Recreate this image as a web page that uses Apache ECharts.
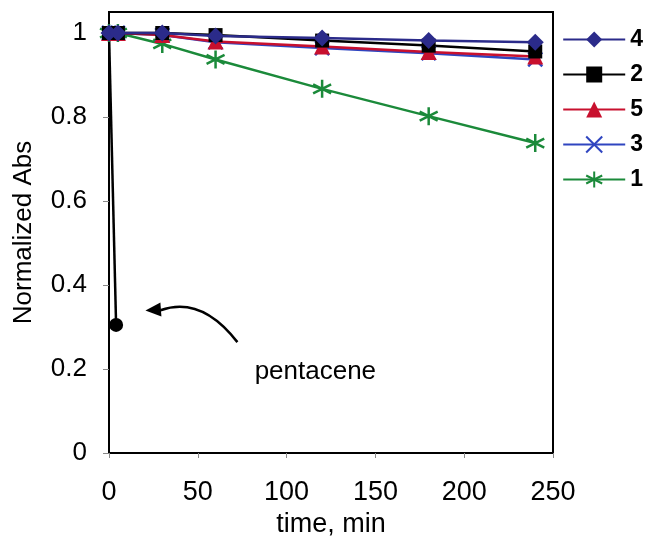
<!DOCTYPE html>
<html>
<head>
<meta charset="utf-8">
<script src="https://cdn.jsdelivr.net/npm/echarts@6/dist/echarts.min.js"></script>
<style>
  html, body { margin: 0; padding: 0; background: #fff; }
  #chart { width: 648px; height: 537px; }
</style>
</head>
<body>
<div id="chart"></div>
<script>
// time points (min)
var times = [0, 5, 30, 60, 120, 180, 240];
// normalized absorbance of each compound
var s4 = [1, 1, 1, 0.993, 0.988, 0.982, 0.978];
var s2 = [1, 1, 1, 0.995, 0.982, 0.97, 0.956];
var s5 = [1, 1, 0.995, 0.98, 0.968, 0.955, 0.944];
var s3 = [1, 1, 0.995, 0.978, 0.964, 0.952, 0.937];
var s1 = [1, 1, 0.974, 0.937, 0.867, 0.802, 0.738];
// pentacene decays almost at once
var pentTimes = [0, 4];
var pentVals = [1, 0.305];
var yTicks = [0, 0.2, 0.4, 0.6, 0.8, 1];

var FONT = '"Liberation Sans", Arial, sans-serif';

function pairs(xs, ys) {
    var out = [];
    for (var i = 0; i < xs.length; i++) out.push([xs[i], ys[i]]);
    return out;
}

var chart = echarts.init(document.getElementById('chart'));

var starPath = 'path://M5,0L5,10M0.7,2.5L9.3,7.5M0.7,7.5L9.3,2.5';
var crossPath = 'path://M0,0L10,10M10,0L0,10';

function line(name, color, vals, symbol, size, hollow) {
    return {
        name: name,
        type: 'line',
        data: pairs(times, vals),
        symbol: symbol,
        symbolSize: size,
        showSymbol: true,
        lineStyle: { color: color, width: 2.5 },
        itemStyle: hollow
            ? { color: 'rgba(0,0,0,0)', borderColor: color, borderWidth: 2.5 }
            : { color: color, borderWidth: 0 },
        emphasis: { disabled: true },
        animation: false
    };
}

var option = {
    backgroundColor: '#fff',
    animation: false,
    grid: {
        left: 109, right: 95, top: 12, bottom: 84,
        outerBoundsMode: 'none',
        show: true, borderColor: '#000', borderWidth: 2
    },
    legend: {
        data: ['4', '2', '5', '3', '1'],
        orient: 'vertical',
        right: 0,
        top: 23,
        itemWidth: 62,
        itemHeight: 20,
        itemGap: 12,
        textStyle: { fontFamily: FONT, fontWeight: 'bold', fontSize: 23, color: '#000' },
        selectedMode: false
    },
    xAxis: {
        type: 'value',
        min: 0, max: 250, interval: 50,
        name: 'time, min',
        nameLocation: 'middle',
        nameGap: 56,
        nameTextStyle: { fontFamily: FONT, fontSize: 27, color: '#000' },
        axisLine: { show: true, onZero: false, lineStyle: { color: '#000', width: 2 } },
        axisTick: { show: true, length: 5, lineStyle: { color: '#888', width: 1 } },
        axisLabel: { fontFamily: FONT, fontSize: 27, color: '#000', margin: 26 },
        splitLine: { show: false }
    },
    yAxis: {
        type: 'value',
        min: 0, max: 1.05,
        name: 'Normalized Abs',
        nameLocation: 'middle',
        nameGap: 72,
        nameTextStyle: { fontFamily: FONT, fontSize: 26, color: '#000' },
        axisLine: { show: true, onZero: false, lineStyle: { color: '#000', width: 2 } },
        axisTick: { show: true, length: 6, customValues: yTicks, lineStyle: { color: '#888', width: 1 } },
        axisLabel: { fontFamily: FONT, fontSize: 26, color: '#000', margin: 22, customValues: yTicks },
        splitLine: { show: false }
    },
    series: [
        {
            name: 'pentacene',
            type: 'line',
            data: pairs(pentTimes, pentVals),
            symbol: 'circle',
            symbolSize: 14,
            lineStyle: { color: '#000', width: 2.5 },
            itemStyle: { color: '#000' },
            emphasis: { disabled: true },
            z: 1
        },
        line('1', '#1b8a3a', s1, starPath, 18, true),
        line('3', '#2f45c0', s3, crossPath, 14, true),
        line('5', '#c8102e', s5, 'triangle', 16, false),
        line('2', '#000000', s2, 'rect', 14, false),
        line('4', '#2b2b8a', s4, 'diamond', 17, false)
    ]
};

chart.setOption(option);

// curved arrow pointing at the pentacene point, placed in data coordinates
function px(x, y) { return chart.convertToPixel({ gridIndex: 0 }, [x, y]); }
var tail = px(72.3, 0.264);
var ctrl = px(52, 0.375);
var head = px(29, 0.34);
var tip = px(20.5, 0.339);
var lbl = px(82, 0.193);

chart.setOption({
    graphic: [
        {
            type: 'bezierCurve',
            shape: { x1: tail[0], y1: tail[1], x2: head[0], y2: head[1], cpx1: ctrl[0], cpy1: ctrl[1] },
            style: { stroke: '#000', lineWidth: 2.5, fill: null }
        },
        {
            type: 'polygon',
            shape: { points: [[tip[0], tip[1]], [tip[0] + 15, tip[1] - 8], [tip[0] + 16, tip[1] + 6]] },
            style: { fill: '#000' }
        },
        {
            type: 'text',
            x: lbl[0], y: lbl[1],
            style: { text: 'pentacene', font: '26px ' + FONT, fill: '#000', textVerticalAlign: 'middle' }
        }
    ]
});
</script>
</body>
</html>
